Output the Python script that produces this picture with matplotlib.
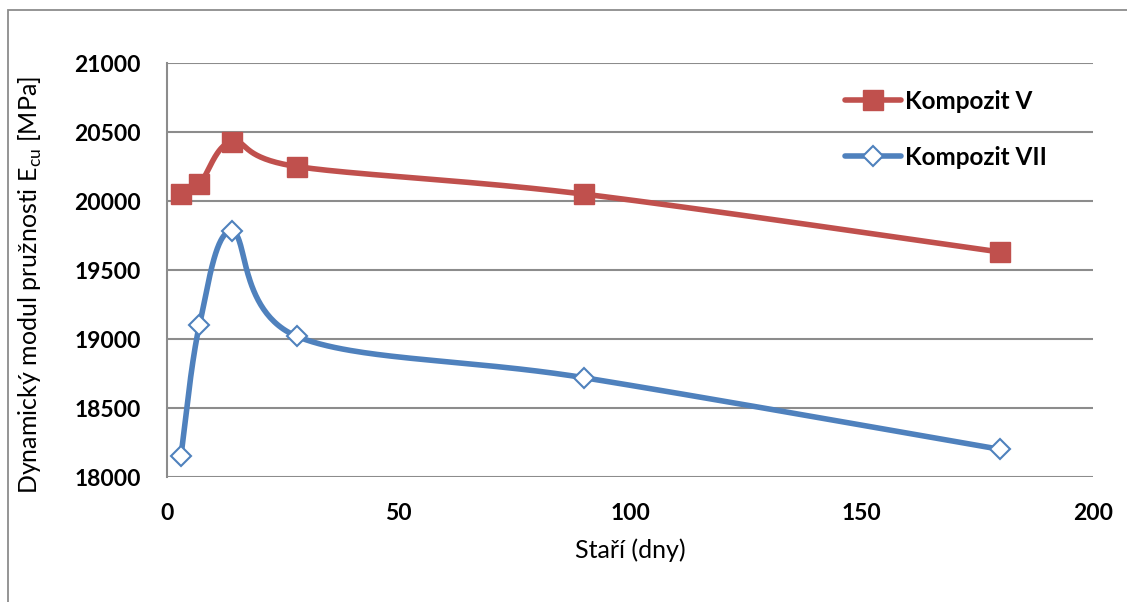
import numpy as np
import matplotlib
matplotlib.use("Agg")
import matplotlib.pyplot as plt
from matplotlib.patches import Rectangle
from matplotlib.lines import Line2D

plt.rcParams['font.family'] = ['Lato', 'DejaVu Sans']

# Age of specimens (days)
days = [3, 7, 14, 28, 90, 180]
# Dynamic modulus of elasticity E_cu [MPa]
komp_v = [20050, 20120, 20430, 20250, 20050, 19630]
komp_vii = [18150, 19100, 19780, 19020, 18720, 18200]

x_ticks = [0, 50, 100, 150, 200]
y_ticks = [18000, 18500, 19000, 19500, 20000, 20500, 21000]

RED = '#C0504D'
BLUE = '#4F81BD'
GRID = '#8C8C8C'


def smooth(xs, ys, n=60):
    """Cardinal-style Bezier smoothing through all points."""
    p = np.column_stack([xs, ys]).astype(float)
    out = []
    for i in range(len(p) - 1):
        p0 = p[i - 1] if i > 0 else p[i]
        p1 = p[i]
        p2 = p[i + 1]
        p3 = p[i + 2] if i + 2 < len(p) else p[i + 1]
        c1 = p1 + (p2 - p0) / 6.0
        c2 = p2 - (p3 - p1) / 6.0
        t = np.linspace(0, 1, n)[:, None]
        seg = ((1 - t) ** 3) * p1 + 3 * ((1 - t) ** 2) * t * c1 + 3 * (1 - t) * t ** 2 * c2 + t ** 3 * p2
        out.append(seg if i == 0 else seg[1:])
    s = np.vstack(out)
    return s[:, 0], s[:, 1]


fig = plt.figure(figsize=(11.27, 6.02), dpi=100)
fig.patch.set_facecolor('white')

# outer chart border
fig.patches.append(Rectangle((8 / 1127, -0.1), 1.2, 1 - 10 / 602 + 0.1,
                             transform=fig.transFigure, fill=False,
                             edgecolor='#8C8C8C', linewidth=1.3))

ax = fig.add_axes([167 / 1127, 1 - 477 / 602, (1093 - 167) / 1127, (477 - 63) / 602])
ax.set_xlim(0, 200)
ax.set_ylim(18000, 21000)
ax.set_xticks(x_ticks)
ax.set_yticks(y_ticks)
ax.grid(axis='y', color=GRID, linewidth=1.5)
ax.set_axisbelow(True)
for s in ['top', 'right', 'bottom']:
    ax.spines[s].set_visible(False)
ax.spines['left'].set_color(GRID)
ax.spines['left'].set_linewidth(1.5)
ax.tick_params(length=0, labelsize=16.5)
ax.tick_params(axis='x', pad=19)
ax.tick_params(axis='y', pad=19)
for lab in ax.get_xticklabels() + ax.get_yticklabels():
    lab.set_fontweight('bold')

sx, sy = smooth(days, komp_v)
ax.plot(sx, sy, color=RED, lw=4, solid_capstyle='round', zorder=3)
ax.plot(days, komp_v, ls='none', marker='s', ms=14, color=RED, zorder=4)

bx, by = smooth(days, komp_vii)
ax.plot(bx, by, color=BLUE, lw=4, solid_capstyle='round', zorder=3)
ax.plot(days, komp_vii, ls='none', marker='D', ms=10, mfc='white',
        mec=BLUE, mew=1.5, zorder=4)

ax.set_xlabel('Staří (dny)', fontsize=18, labelpad=10)
ax.set_ylabel('Dynamický modul pružnosti E$_{\\mathregular{cu}}$ [MPa]', fontsize=18)
ax.yaxis.set_label_coords(-0.133, 0.464)

handles = [
    Line2D([], [], color=RED, lw=4, marker='s', ms=14, solid_capstyle='round'),
    Line2D([], [], color=BLUE, lw=4, marker='D', ms=10, mfc='white', mec=BLUE, mew=1.5,
           solid_capstyle='round'),
]
leg = fig.legend(handles, ['Kompozit V', 'Kompozit VII'], loc='upper left',
                 bbox_to_anchor=(845 / 1127, 1 - 90 / 602), frameon=False,
                 borderpad=0, borderaxespad=0, handlelength=2.3,
                 handletextpad=0.15, labelspacing=1.35,
                 prop={'weight': 'bold', 'size': 17.5})

fig.savefig('out.png', dpi=100)
